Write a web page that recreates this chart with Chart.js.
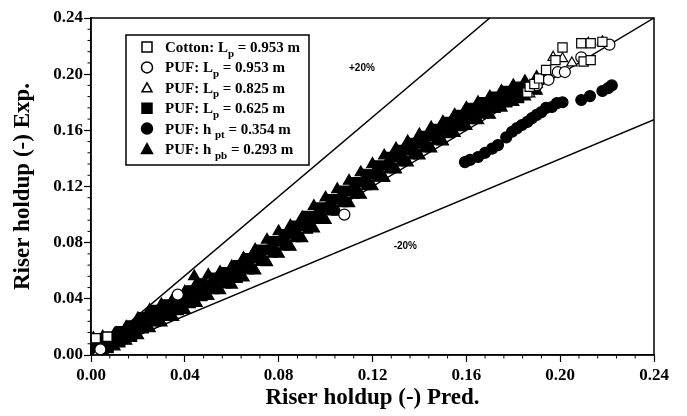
<!DOCTYPE html>
<html>
<head>
<meta charset="utf-8">
<script src="https://cdn.jsdelivr.net/npm/chart.js@4.4.1/dist/chart.umd.min.js"></script>
<style>
  html, body { margin: 0; padding: 0; background: #fff; }
  #wrap { width: 687px; height: 416px; }
</style>
</head>
<body>
<div id="wrap"><canvas id="chart" width="687" height="416"></canvas></div>
<script>
// tick values for both axes
const tickValues = [0, 0.04, 0.08, 0.12, 0.16, 0.2, 0.24]

// [pred, exp] pairs
const cottonLp953 = [
  [0.002, 0.012], [0.007, 0.013], [0.186, 0.187], [0.187, 0.191], [0.189, 0.193],
  [0.191, 0.197], [0.194, 0.203], [0.198, 0.210], [0.201, 0.219], [0.209, 0.222],
  [0.213, 0.222], [0.218, 0.223], [0.210, 0.209], [0.213, 0.210]
]
const pufLp953 = [
  [0.004, 0.004], [0.037, 0.043], [0.108, 0.100], [0.190, 0.192], [0.195, 0.196],
  [0.199, 0.2015], [0.202, 0.2015], [0.209, 0.212], [0.221, 0.221]
]
const pufLp825 = [
  [0.003, 0.002], [0.187, 0.186], [0.189, 0.194], [0.192, 0.196], [0.195, 0.199],
  [0.197, 0.212], [0.201, 0.211], [0.205, 0.208], [0.212, 0.222], [0.218, 0.223]
]
const pufLp625 = [
  [0.0025, 0.004], [0.0025, 0.008], [0.0025, 0.011],
  [0.0075, 0.005], [0.0075, 0.009], [0.0075, 0.013],
  [0.0125, 0.009], [0.0125, 0.013], [0.0125, 0.017],
  [0.0175, 0.013], [0.0175, 0.017], [0.0175, 0.021],
  [0.0225, 0.019], [0.0225, 0.023], [0.0225, 0.027],
  [0.0275, 0.024], [0.0275, 0.028], [0.0275, 0.032],
  [0.0325, 0.028], [0.0325, 0.032], [0.0325, 0.036],
  [0.0375, 0.032], [0.0375, 0.037], [0.0375, 0.041],
  [0.0425, 0.037], [0.0425, 0.042], [0.0425, 0.046],
  [0.0475, 0.042], [0.0475, 0.047], [0.0475, 0.051],
  [0.0525, 0.047], [0.0525, 0.051], [0.0525, 0.055],
  [0.0575, 0.051], [0.0575, 0.055], [0.0575, 0.059],
  [0.0625, 0.055], [0.0625, 0.060], [0.0625, 0.064],
  [0.0675, 0.061], [0.0675, 0.065], [0.0675, 0.069],
  [0.0725, 0.067], [0.0725, 0.071], [0.0725, 0.075],
  [0.0775, 0.073], [0.0775, 0.077], [0.0775, 0.081],
  [0.0825, 0.078], [0.0825, 0.082], [0.0825, 0.086],
  [0.0875, 0.084], [0.0875, 0.088], [0.0875, 0.092],
  [0.0925, 0.090], [0.0925, 0.095], [0.0925, 0.099],
  [0.0975, 0.097], [0.0975, 0.101], [0.0975, 0.105],
  [0.1025, 0.103], [0.1025, 0.107], [0.1025, 0.111],
  [0.1075, 0.109], [0.1075, 0.113], [0.1075, 0.117],
  [0.1125, 0.115], [0.1125, 0.119], [0.1125, 0.123],
  [0.1175, 0.121], [0.1175, 0.125], [0.1175, 0.129],
  [0.1225, 0.127], [0.1225, 0.131], [0.1225, 0.135],
  [0.1275, 0.133], [0.1275, 0.137], [0.1275, 0.141],
  [0.1325, 0.138], [0.1325, 0.142], [0.1325, 0.146],
  [0.1375, 0.143], [0.1375, 0.147], [0.1375, 0.151],
  [0.1425, 0.148], [0.1425, 0.152], [0.1425, 0.156],
  [0.1475, 0.153], [0.1475, 0.157], [0.1475, 0.161],
  [0.1525, 0.158], [0.1525, 0.162], [0.1525, 0.166],
  [0.1575, 0.163], [0.1575, 0.167], [0.1575, 0.171],
  [0.1625, 0.168], [0.1625, 0.172], [0.1625, 0.176],
  [0.1675, 0.172], [0.1675, 0.176], [0.1675, 0.180],
  [0.1725, 0.176], [0.1725, 0.180], [0.1725, 0.184],
  [0.1775, 0.180], [0.1775, 0.184], [0.1775, 0.188],
  [0.1825, 0.183], [0.1825, 0.187], [0.1825, 0.191]
]
const pufHpt354 = [
  [0.1594, 0.1374], [0.1616, 0.139], [0.165, 0.141], [0.168, 0.144], [0.171, 0.147],
  [0.1735, 0.1495], [0.177, 0.155], [0.1795, 0.159], [0.1816, 0.1616], [0.1837, 0.1638],
  [0.186, 0.166], [0.188, 0.1687], [0.190, 0.171], [0.192, 0.173], [0.194, 0.176],
  [0.1965, 0.1766], [0.1986, 0.1794], [0.201, 0.180], [0.209, 0.1816], [0.2127, 0.1844],
  [0.218, 0.188], [0.2204, 0.190], [0.222, 0.192]
]
const pufHpb293 = [
  [0.001, 0.003], [0.001, 0.008], [0.001, 0.012],
  [0.005, 0.003], [0.005, 0.008], [0.005, 0.013],
  [0.010, 0.006], [0.010, 0.011], [0.010, 0.015],
  [0.015, 0.010], [0.015, 0.015], [0.015, 0.020],
  [0.020, 0.014], [0.020, 0.020], [0.020, 0.026],
  [0.025, 0.019], [0.025, 0.026], [0.025, 0.032],
  [0.030, 0.023], [0.030, 0.030], [0.030, 0.036],
  [0.035, 0.027], [0.035, 0.034], [0.035, 0.040],
  [0.040, 0.032], [0.040, 0.039], [0.040, 0.045],
  [0.044, 0.056],
  [0.045, 0.037], [0.045, 0.044], [0.045, 0.051],
  [0.050, 0.042], [0.050, 0.049], [0.050, 0.057],
  [0.055, 0.046], [0.055, 0.053], [0.055, 0.059],
  [0.060, 0.050], [0.060, 0.057], [0.060, 0.063],
  [0.065, 0.055], [0.065, 0.062], [0.065, 0.069],
  [0.070, 0.060], [0.070, 0.068], [0.070, 0.075],
  [0.075, 0.066], [0.075, 0.074], [0.075, 0.082],
  [0.080, 0.072], [0.080, 0.080], [0.080, 0.088],
  [0.085, 0.077], [0.085, 0.085], [0.085, 0.092],
  [0.090, 0.083], [0.090, 0.091], [0.090, 0.098],
  [0.095, 0.090], [0.095, 0.098], [0.095, 0.106],
  [0.100, 0.096], [0.100, 0.104], [0.100, 0.112],
  [0.105, 0.102], [0.105, 0.110], [0.105, 0.118],
  [0.110, 0.108], [0.110, 0.116], [0.110, 0.124],
  [0.115, 0.114], [0.115, 0.122], [0.115, 0.130],
  [0.120, 0.120], [0.120, 0.128], [0.120, 0.136],
  [0.125, 0.126], [0.125, 0.134], [0.125, 0.142],
  [0.130, 0.132], [0.130, 0.140], [0.130, 0.147],
  [0.135, 0.137], [0.135, 0.145], [0.135, 0.152],
  [0.140, 0.142], [0.140, 0.150], [0.140, 0.157],
  [0.145, 0.147], [0.145, 0.155], [0.145, 0.162],
  [0.150, 0.152], [0.150, 0.159], [0.150, 0.166],
  [0.155, 0.158], [0.155, 0.165], [0.155, 0.171],
  [0.160, 0.163], [0.160, 0.170], [0.160, 0.176],
  [0.165, 0.167], [0.165, 0.174], [0.165, 0.180],
  [0.170, 0.171], [0.170, 0.178], [0.170, 0.184],
  [0.175, 0.176], [0.175, 0.182], [0.175, 0.188],
  [0.180, 0.180], [0.180, 0.186], [0.180, 0.192],
  [0.185, 0.184], [0.185, 0.189], [0.185, 0.195],
  [0.190, 0.188], [0.190, 0.193], [0.190, 0.198]
]

// reference lines (end points)
const lineUpper = [[0, 0], [0.17, 0.24]]
const lineEqual = [[0, 0], [0.24, 0.24]]
const lineLower = [[0, 0], [0.24, 0.1675]]

const legendRows = [
  { main: 'Cotton: L', sub: 'p', tail: ' = 0.953 m' },
  { main: 'PUF: L', sub: 'p', tail: ' = 0.953 m' },
  { main: 'PUF: L', sub: 'p', tail: ' = 0.825 m' },
  { main: 'PUF: L', sub: 'p', tail: ' = 0.625 m' },
  { main: 'PUF: h ', sub: 'pt', tail: ' = 0.354 m' },
  { main: 'PUF: h ', sub: 'pb', tail: ' = 0.293 m' },
]

const toXY = (pts) => pts.map(([x, y]) => ({ x, y }))

const serif = '"Liberation Serif", "Times New Roman", serif'

const pointSet = (data, style, radius, fill) => ({
  data: toXY(data),
  pointStyle: style,
  pointRadius: radius,
  pointHoverRadius: radius,
  backgroundColor: fill,
  borderColor: '#000',
  borderWidth: 1.2,
  showLine: false,
  order: 0,
})

const lineSet = (data) => ({
  data: toXY(data),
  showLine: true,
  pointRadius: 0,
  borderColor: '#000',
  borderWidth: 1.5,
  order: 5,
})

const drawMarker = (ctx, style, x, y, r, fill) => {
  ctx.beginPath()
  if (style === 'rect') {
    ctx.rect(x - r, y - r, 2 * r, 2 * r)
  } else if (style === 'circle') {
    ctx.arc(x, y, r, 0, Math.PI * 2)
  } else {
    ctx.moveTo(x, y - r)
    ctx.lineTo(x + r, y + r * 0.8)
    ctx.lineTo(x - r, y + r * 0.8)
    ctx.closePath()
  }
  ctx.fillStyle = fill
  ctx.fill()
  ctx.lineWidth = 1.5
  ctx.strokeStyle = '#000'
  ctx.stroke()
}

const framePlugin = {
  id: 'frame',
  afterDraw(chart) {
    const { ctx, chartArea: a, scales } = chart
    ctx.save()
    ctx.strokeStyle = '#000'
    ctx.lineWidth = 1.5
    ctx.strokeRect(a.left, a.top, a.right - a.left, a.bottom - a.top)

    // minor ticks every 0.008
    ctx.lineWidth = 1
    for (let i = 1; i < 30; i++) {
      if (i % 5 === 0) continue
      const v = i * 0.008
      const px = scales.x.getPixelForValue(v)
      const py = scales.y.getPixelForValue(v)
      ctx.beginPath()
      ctx.moveTo(px, a.bottom)
      ctx.lineTo(px, a.bottom + 3.5)
      ctx.moveTo(a.left, py)
      ctx.lineTo(a.left - 3.5, py)
      ctx.stroke()
    }

    // line labels
    ctx.fillStyle = '#000'
    ctx.font = 'bold 10px "Liberation Sans", Arial, sans-serif'
    ctx.textAlign = 'center'
    ctx.textBaseline = 'middle'
    ctx.fillText('+20%', scales.x.getPixelForValue(0.1155), scales.y.getPixelForValue(0.2043))
    ctx.fillText('-20%', scales.x.getPixelForValue(0.134), scales.y.getPixelForValue(0.0776))

    // legend
    const left = a.left + 35
    const top = a.top + 17
    ctx.fillStyle = '#fff'
    ctx.fillRect(left, top, 183, 130)
    ctx.lineWidth = 1.5
    ctx.strokeRect(left, top, 183, 130)
    const markers = [
      ['rect', 5, '#fff'], ['circle', 5.5, '#fff'], ['triangle', 5, '#fff'],
      ['rect', 5, '#000'], ['circle', 5.5, '#000'], ['triangle', 5.5, '#000'],
    ]
    ctx.textAlign = 'left'
    ctx.textBaseline = 'alphabetic'
    legendRows.forEach((row, i) => {
      const base = top + 17 + i * 20.4
      const [style, r, fill] = markers[i]
      drawMarker(ctx, style, left + 21, base - 5, r, fill)
      ctx.fillStyle = '#000'
      let tx = left + 39
      ctx.font = `bold 15px ${serif}`
      ctx.fillText(row.main, tx, base)
      tx += ctx.measureText(row.main).width
      ctx.font = `bold 11px ${serif}`
      ctx.fillText(row.sub, tx, base + 4.5)
      tx += ctx.measureText(row.sub).width
      ctx.font = `bold 15px ${serif}`
      ctx.fillText(row.tail, tx, base)
    })
    ctx.restore()
  },
}

const axisCommon = (titleText, fitSize, isX) => ({
  type: 'linear',
  min: 0,
  max: 0.24,
  afterBuildTicks: (scale) => {
    scale.ticks = tickValues.map((v) => ({ value: v }))
  },
  afterFit: (scale) => {
    if (isX) scale.height = fitSize
    else scale.width = fitSize
  },
  ticks: {
    color: '#000',
    padding: isX ? 3 : 1,
    maxRotation: 0,
    autoSkip: false,
    font: { family: serif, size: 17, weight: 'bold' },
    callback: (v) => Number(v).toFixed(2),
  },
  grid: {
    drawOnChartArea: false,
    drawTicks: true,
    tickLength: 7,
    tickColor: '#000',
    tickWidth: 1.2,
  },
  border: { display: true, color: '#000', width: 1.5 },
  title: {
    display: true,
    text: titleText,
    color: '#000',
    font: { family: serif, size: 23, weight: 'bold' },
    padding: isX ? { top: 0, bottom: 4 } : { top: 9, bottom: 0 },
  },
})

new Chart(document.getElementById('chart'), {
  type: 'scatter',
  data: {
    datasets: [
      pointSet(cottonLp953, 'rect', 6.5, '#fff'),
      pointSet(pufLp953, 'circle', 5.5, '#fff'),
      pointSet(pufLp825, 'triangle', 6, '#fff'),
      pointSet(pufLp625, 'rect', 6.5, '#000'),
      pointSet(pufHpt354, 'circle', 5.5, '#000'),
      pointSet(pufHpb293, 'triangle', 6.5, '#000'),
      lineSet(lineUpper),
      lineSet(lineEqual),
      lineSet(lineLower),
    ],
  },
  options: {
    responsive: false,
    animation: false,
    devicePixelRatio: 1,
    layout: { padding: { left: 0, top: 18, right: 33, bottom: 0 } },
    plugins: {
      legend: { display: false },
      tooltip: { enabled: false },
    },
    scales: {
      x: axisCommon('Riser holdup (-) Pred.', 61, true),
      y: axisCommon('Riser holdup (-) Exp.', 91, false),
    },
  },
  plugins: [framePlugin],
})
</script>
</body>
</html>
